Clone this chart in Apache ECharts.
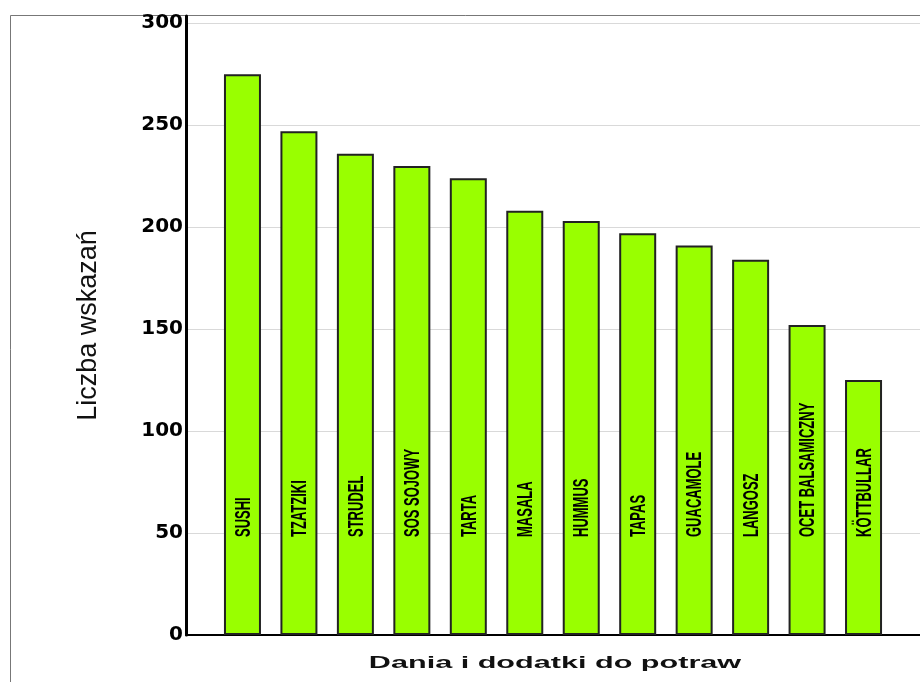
<!DOCTYPE html>
<html>
<head>
<meta charset="utf-8">
<script src="https://cdn.jsdelivr.net/npm/echarts@6/dist/echarts.min.js"></script>
<style>
html,body{margin:0;padding:0;background:#fff;}
#chart{width:920px;height:682px;}
</style>
</head>
<body>
<div id="chart"></div>
<script>
const categories = ['SUSHI','TZATZIKI','STRUDEL','SOS SOJOWY','TARTA','MASALA','HUMMUS','TAPAS','GUACAMOLE','LANGOSZ','OCET BALSAMICZNY','KÖTTBULLAR'];
const values = [275, 247, 236, 230, 224, 208, 203, 197, 191, 184, 152, 125];
const yTicks = [0, 50, 100, 150, 200, 250, 300];
const yTitle = 'Liczba wskazań';
const xTitle = 'Dania i dodatki do potraw';

const barData = categories.map((c, i) => [i + 1, values[i]]);
const labelData = categories.map((c, i) => [i + 1, 0]);

const chart = echarts.init(document.getElementById('chart'));
chart.setOption({
  backgroundColor: '#fff',
  animation: false,
  grid: {left: 186, right: 0, top: 16, bottom: 47, containLabel: false},
  xAxis: {
    type: 'value', min: 0, max: categories.length + 1,
    axisLine: {show: true, onZero: false, lineStyle: {color: '#000', width: 2}},
    axisTick: {show: false}, axisLabel: {show: false}, splitLine: {show: false}
  },
  yAxis: {
    type: 'value', min: 0, max: 303.5, interval: 50,
    name: yTitle, nameLocation: 'middle', nameGap: 84, nameRotate: 90,
    nameTextStyle: {fontFamily: 'Liberation Sans', fontSize: 27, color: '#111'},
    axisLine: {show: true, lineStyle: {color: '#000', width: 3}},
    axisTick: {show: false},
    axisLabel: {
      margin: 3, showMaxLabel: false, color: '#000', padding: [3, 0, 0, 0],
      fontFamily: 'DejaVu Sans', fontWeight: 'bold', fontSize: 20,
      formatter: v => (yTicks.indexOf(v) >= 0 ? String(v) : '')
    },
    splitLine: {show: true, showMaxLine: false, lineStyle: {color: '#d9d9d9', width: 1}}
  },
  graphic: [
    {type: 'rect', shape: {x: 10.5, y: 15.5, width: 1000, height: 1000}, style: {fill: 'none', stroke: '#777', lineWidth: 1}, z: -10, silent: true},
    {type: 'text', x: 555, y: 663, scaleX: 1.8, scaleY: 1,
     style: {text: xTitle, fontFamily: 'Liberation Sans', fontWeight: 'bold', fontSize: 17, fill: '#111', align: 'center', verticalAlign: 'middle'}}
  ],
  series: [
    {
      type: 'bar', data: barData, barWidth: 37,
      itemStyle: {color: '#99ff00', borderColor: '#222', borderWidth: 2},
      z: 2
    },
    {
      type: 'custom', data: labelData, z: 5,
      renderItem: function (params, api) {
        const p = api.coord([api.value(0), api.value(1)]);
        return {
          type: 'text', x: p[0] + 1, y: p[1] - 98, rotation: Math.PI / 2,
          scaleX: 1.0, scaleY: 1.75,
          style: {text: categories[params.dataIndex], fontFamily: 'Liberation Sans', fontWeight: 'bold', fontSize: 13, fill: '#000', align: 'left', verticalAlign: 'middle'}
        };
      }
    }
  ]
});
</script>
</body>
</html>
